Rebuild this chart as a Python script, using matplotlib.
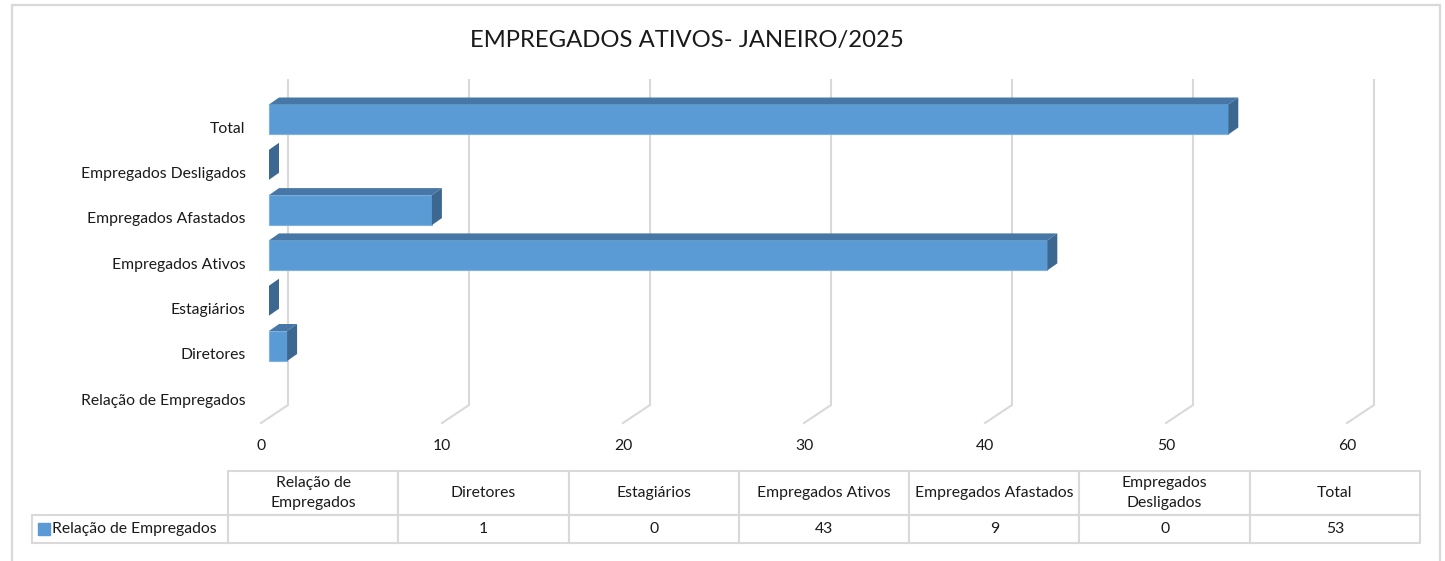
import numpy as np
import matplotlib
matplotlib.use("Agg")
import matplotlib.pyplot as plt
from matplotlib.patches import Rectangle
from matplotlib.table import Table

plt.rcParams['font.family'] = ['Lato', 'DejaVu Sans']

# dados do gráfico
categorias = ['Relação de Empregados', 'Diretores', 'Estagiários', 'Empregados Ativos',
              'Empregados Afastados', 'Empregados Desligados', 'Total']
cabecalhos = ['Relação de\nEmpregados', 'Diretores', 'Estagiários', 'Empregados Ativos',
              'Empregados Afastados', 'Empregados\nDesligados', 'Total']
valores = [np.nan, 1, 0, 43, 9, 0, 53]
serie = 'Relação de Empregados'
x_ticks = [0, 10, 20, 30, 40, 50, 60]
titulo = 'EMPREGADOS ATIVOS- JANEIRO/2025'

W, H = 1445, 561
fig = plt.figure(figsize=(W / 100, H / 100), dpi=100)


def px_rect(x0, y0, x1, y1):
    # converte caixa em pixels (topo-esquerda) para fração da figura
    return [x0 / W, 1 - y1 / H, (x1 - x0) / W, (y1 - y0) / H]


cor_frente = '#5B9BD5'
cor_topo = '#4677A6'
cor_lado = '#3C6791'
cor_grade = '#D9D9D9'
cor_texto = '#1a1a1a'
fs = 11.3

# borda da área do gráfico
fig.add_artist(Rectangle((11.5 / W, -0.05), (1440 - 11.5) / W, 1.05 - 5.5 / H,
                         transform=fig.transFigure, fill=False,
                         edgecolor=cor_grade, linewidth=1.6))

fig.text(687 / W, 1 - 40 / H, titulo, ha='center', va='center',
         fontsize=17.2, color=cor_texto)

# eixo do gráfico: 18.1 px por unidade em x, 45.3 px por categoria em y
sx, sy = 18.1, 45.3
xlim = (-0.5, 62.5)
ylim = (-0.6, 7.3)
ax = fig.add_axes(px_rect(261 + xlim[0] * sx, 399 - ylim[1] * sy,
                          261 + xlim[1] * sx, 399 - ylim[0] * sy))
ax.set_xlim(*xlim)
ax.set_ylim(*ylim)
for s in ax.spines.values():
    s.set_visible(False)

# profundidade 3D
DX, DY = 27 / sx, 18 / sy          # parede do fundo
piso = -0.53
topo = 7.04
for v in x_ticks:
    ax.plot([v, v + DX, v + DX], [piso, piso + DY, topo], color=cor_grade,
            linewidth=1.5, zorder=1, solid_joinstyle='miter')

X0 = 8 / sx
BDX, BDY = 10 / sx, 7 / sy
YO = 0.17
BH = 30 / sy
for i, v in enumerate(valores):
    if np.isnan(v):
        continue
    yb, yt = i + YO - BH / 2, i + YO + BH / 2
    if v > 0:
        ax.barh(i + YO, v, height=BH, left=X0, color=cor_frente,
                edgecolor='#7FB2E0', linewidth=0.8, zorder=3)
        ax.fill([X0, X0 + v, X0 + v + BDX, X0 + BDX],
                [yt, yt, yt + BDY, yt + BDY], color=cor_topo, zorder=3, linewidth=0)
    ax.fill([X0 + v, X0 + v + BDX, X0 + v + BDX, X0 + v],
            [yb, yb + BDY, yt + BDY, yt], color=cor_lado, zorder=3, linewidth=0)

ax.set_yticks(range(len(categorias)))
ax.set_yticklabels(categorias)
ax.set_xticks(x_ticks)
ax.set_xticklabels([str(v) for v in x_ticks])
ax.tick_params(axis='y', length=0, pad=4.5, labelsize=fs, labelcolor=cor_texto)
ax.tick_params(axis='x', length=0, pad=9, labelsize=fs, labelcolor=cor_texto)

# tabela de dados
tx0, tx1, ty0, ty1 = 32, 1420, 471, 543
tab_ax = fig.add_axes(px_rect(tx0, ty0, tx1, ty1))
tab_ax.axis('off')
larg_rot = 196
larg_col = (tx1 - tx0 - larg_rot) / len(cabecalhos)
tabela = Table(tab_ax, bbox=[0, 0, 1, 1])
linhas = [[''] + cabecalhos,
          [serie] + ['' if np.isnan(v) else f'{int(v)}' for v in valores]]
alturas = [44, 28]
for r, linha in enumerate(linhas):
    for c, txt in enumerate(linha):
        cell = tabela.add_cell(r, c, width=larg_rot if c == 0 else larg_col,
                               height=alturas[r], text=txt,
                               loc='left' if c == 0 else 'center')
        cell.set_edgecolor(cor_grade)
        cell.set_linewidth(1.5)
        cell.get_text().set_color(cor_texto)
        cell.get_text().set_linespacing(1.5)
        if r == 0 and c == 0:
            cell.set_visible(False)
tabela.auto_set_font_size(False)
tabela.set_fontsize(fs)
tab_ax.add_table(tabela)

# quadrado da legenda
fig.add_artist(Rectangle((38 / W, 1 - 535 / H), 12 / W, 12 / H,
                         transform=fig.transFigure, color=cor_frente))

fig.savefig('out.png', dpi=100)
